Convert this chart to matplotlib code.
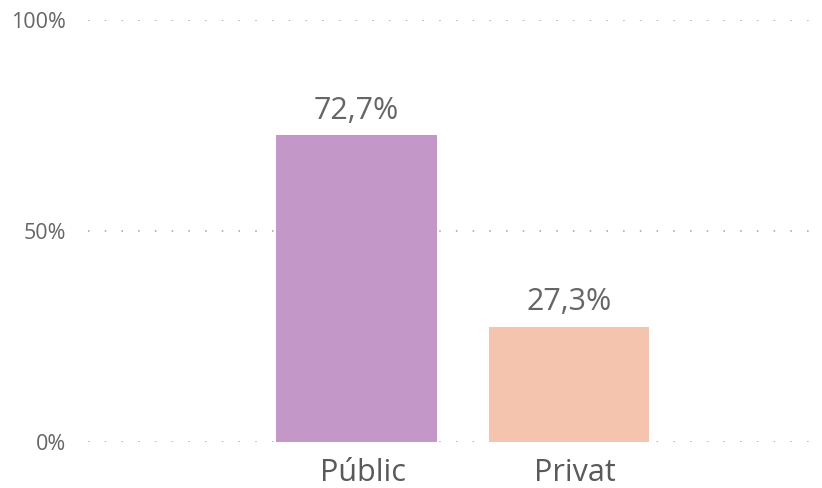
import matplotlib
matplotlib.use("Agg")
import matplotlib.pyplot as plt

categories = ["Públic", "Privat"]
values = [72.7, 27.3]
labels = ["72,7%", "27,3%"]
colors = ["#C497C9", "#F4C4AE"]
yticks = [0, 50, 100]
ytick_labels = ["0%", "50%", "100%"]

plt.rcParams['font.family'] = ['Open Sans', 'DejaVu Sans']

fig = plt.figure(figsize=(8.22, 4.88), dpi=100)
ax = fig.add_axes([88/822, 1-442/488, (812-88)/822, (442-20)/488])

x = list(range(len(categories)))
bars = ax.bar(x, values, width=0.755, color=colors, zorder=3)
for xi, v, lab in zip(x, values, labels):
    ax.annotate(lab, (xi, v), xytext=(0, 12), textcoords="offset points",
                ha="center", va="baseline", fontsize=22, color="#666666")

ax.set_xlim(-1.264, 2.142)
ax.set_ylim(0, 100)
ax.set_xticks(x)
ax.set_xticklabels([])
for xi, cat in zip(x, categories):
    ax.annotate(cat, (xi, 0), xycoords=ax.get_xaxis_transform(),
                xytext=(4.3, -28), textcoords="offset points",
                ha="center", va="baseline", fontsize=22, color="#5a5a5a",
                annotation_clip=False)
ax.set_yticks(yticks)
ax.set_yticklabels(ytick_labels, fontsize=15.5, color="#666666")
ax.tick_params(axis="both", length=0)
ax.tick_params(axis="y", pad=16)
for s in ax.spines.values():
    s.set_visible(False)
ax.yaxis.grid(True, color="#b5b5b5", linewidth=1.4, linestyle=(0, (0.8, 7.8)), zorder=0)
ax.set_axisbelow(True)

fig.savefig("out.png", dpi=100)
